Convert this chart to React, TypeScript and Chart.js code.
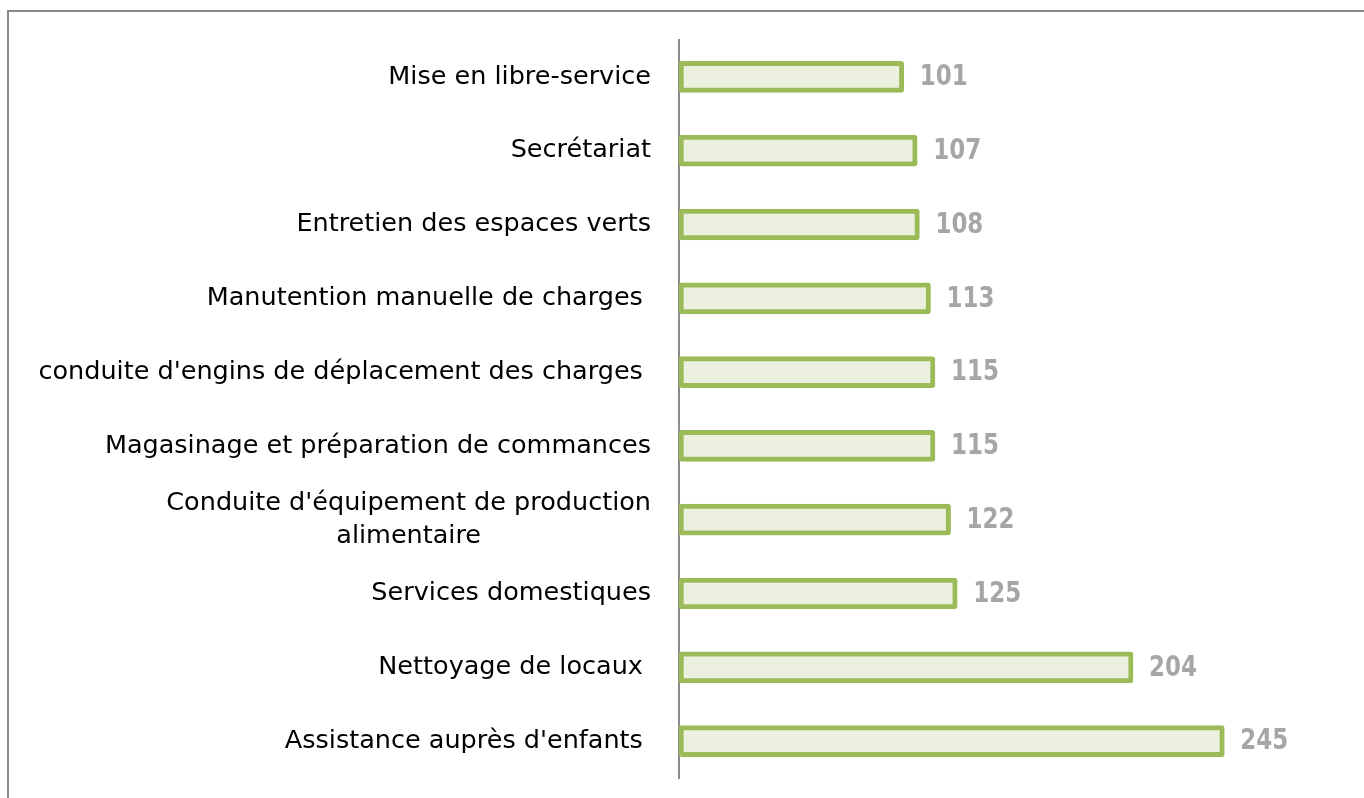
import React, { useEffect, useRef } from "react";
import { Chart, registerables } from "chart.js";

Chart.register(...registerables);

const categories: (string | string[])[] = [
  "Mise en libre-service",
  "Secrétariat",
  "Entretien des espaces verts",
  "Manutention manuelle de charges ",
  "conduite d'engins de déplacement des charges ",
  "Magasinage et préparation de commances",
  ["Conduite d'équipement de production", "alimentaire"],
  "Services domestiques",
  "Nettoyage de locaux ",
  "Assistance auprès d'enfants ",
];

const values: number[] = [101, 107, 108, 113, 115, 115, 122, 125, 204, 245];

const LABEL_FONT = '25.5px "DejaVu Sans", sans-serif';
const VALUE_FONT = 'bold 28px "DejaVu Sans", sans-serif';

const labelPlugin = {
  id: "customLabels",
  afterDraw(chart: any) {
    const ctx = chart.ctx;
    const yScale = chart.scales.y;
    const meta = chart.getDatasetMeta(0);
    ctx.save();
    ctx.font = LABEL_FONT;
    ctx.fillStyle = "#000000";
    ctx.textBaseline = "middle";
    const rightEdge = yScale.right - 28;
    categories.forEach((lab, i) => {
      const y = yScale.getPixelForValue(i);
      if (Array.isArray(lab)) {
        const widths = lab.map((l) => ctx.measureText(l.trimEnd()).width);
        const maxW = Math.max(...widths);
        const cx = rightEdge - maxW / 2;
        const lh = 33;
        ctx.textAlign = "center";
        lab.forEach((l, j) => {
          ctx.fillText(l, cx, y + (j - (lab.length - 1) / 2) * lh);
        });
      } else {
        ctx.textAlign = "right";
        ctx.fillText(lab, rightEdge, y);
      }
    });
    ctx.font = VALUE_FONT;
    ctx.fillStyle = "#A6A6A6";
    ctx.textAlign = "left";
    meta.data.forEach((bar: any, i: number) => {
      ctx.save();
      ctx.translate(bar.x + 16, bar.y + 1);
      ctx.scale(0.82, 1);
      ctx.fillText(String(values[i]), 0, 0);
      ctx.restore();
    });
    ctx.restore();
  },
};

export default function App() {
  const ref = useRef<HTMLCanvasElement | null>(null);
  useEffect(() => {
    if (!ref.current) return;
    const chart = new Chart(ref.current, {
      type: "bar",
      data: {
        labels: categories as any,
        datasets: [
          {
            data: values,
            backgroundColor: "#EBF1DE",
            borderColor: "#9BBB59",
            borderWidth: 5,
            borderRadius: 3,
            borderSkipped: false,
            barThickness: 31,
          },
        ],
      },
      options: {
        indexAxis: "y",
        animation: false,
        responsive: false,
        maintainAspectRatio: false,
        layout: { padding: { top: 40, bottom: 20, left: 0, right: 84 } },
        plugins: {
          legend: { display: false },
          tooltip: { enabled: false },
        },
        scales: {
          x: {
            display: false,
            min: 0,
            max: 270,
          },
          y: {
            display: true,
            ticks: { display: false },
            grid: { display: false, drawTicks: false },
            border: { display: true, color: "#8C8C8C", width: 2 },
            afterFit: (scale: any) => {
              scale.width = 679;
            },
          },
        },
      },
      plugins: [labelPlugin],
    });
    return () => chart.destroy();
  }, []);

  return (
    <div
      style={{
        position: "fixed",
        left: 0,
        top: 0,
        width: 1364,
        height: 798,
        overflow: "hidden",
        background: "#ffffff",
      }}
    >
      <div
        style={{
          position: "absolute",
          left: 7,
          top: 10,
          width: 1400,
          height: 900,
          borderLeft: "2px solid #8A8A8A",
          borderTop: "2px solid #8A8A8A",
        }}
      />
      <canvas
        ref={ref}
        width={1364}
        height={798}
        style={{ position: "absolute", left: 0, top: 0, width: 1364, height: 798 }}
      />
    </div>
  );
}
